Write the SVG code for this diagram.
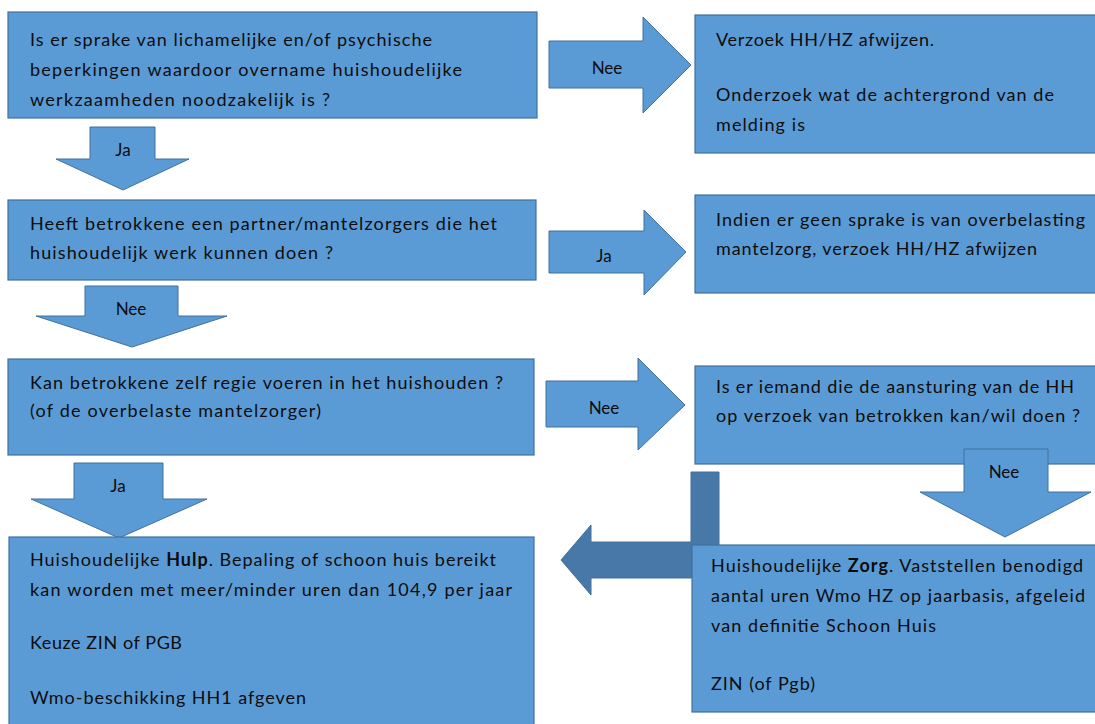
<svg xmlns="http://www.w3.org/2000/svg" width="1095" height="724" viewBox="0 0 1095 724">
<style>
.box{fill:#5B9BD5;stroke:#41719C;stroke-width:1.2}
.arr{fill:#5B9BD5;stroke:#41719C;stroke-width:1}
.bent{fill:#4878A8;stroke:#41719C;stroke-width:1}
text{font-family:Lato,"Liberation Sans",sans-serif;font-size:18px;fill:#0d0d0d}
.lbl{text-anchor:middle;font-size:17px}
</style>
<rect width="1095" height="724" fill="#fff"/>
<g id="connectors">
<g id="a1"><polygon class="arr" points="90,127 155,127 155,159 189,159 123,190 56,159 90,159"/><text class="lbl" x="123" y="156">Ja</text></g>
<g id="a2"><polygon class="arr" points="549,41 643,41 643,17 691,65 643,113 643,88 549,88"/><text class="lbl" x="607" y="74">Nee</text></g>
<g id="a3"><polygon class="arr" points="549,231 644,231 644,210 686,252 644,295 644,273 549,273"/><text class="lbl" x="604" y="262">Ja</text></g>
<g id="a4"><polygon class="arr" points="85,286 178,286 178,316 227,316 132,347 36,316 85,316"/><text class="lbl" x="131" y="315">Nee</text></g>
<g id="a5"><polygon class="arr" points="546,381 638,381 638,358 685,405 638,450 638,427 546,427"/><text class="lbl" x="604" y="414">Nee</text></g>
<g id="a7"><polygon class="arr" points="74,463 163,463 163,499 207,499 119,538 31,499 74,499"/><text class="lbl" x="118" y="492">Ja</text></g>
<g id="a8"><polygon class="bent" points="691,472 719,472 719,578 591,578 591,595 561,560 591,525 591,542 691,542"/></g>
</g>
<g id="n1"><rect class="box" x="8" y="12" width="529" height="106"/>
<text x="30" y="46" textLength="402">Is er sprake van lichamelijke en/of psychische</text>
<text x="30" y="76" textLength="432">beperkingen waardoor overname huishoudelijke</text>
<text x="30" y="106" textLength="300">werkzaamheden noodzakelijk is ?</text></g>
<g id="n2"><rect class="box" x="695" y="15" width="410" height="138"/>
<text x="716" y="46" textLength="218">Verzoek HH/HZ afwijzen.</text>
<text x="716" y="101" textLength="338">Onderzoek wat de achtergrond van de</text>
<text x="716" y="131" textLength="89">melding is</text></g>
<g id="n3"><rect class="box" x="8" y="200" width="528" height="80"/>
<text x="30" y="230" textLength="467">Heeft betrokkene een partner/mantelzorgers die het</text>
<text x="30" y="259" textLength="303">huishoudelijk werk kunnen doen ?</text></g>
<g id="n4"><rect class="box" x="695" y="195" width="410" height="98"/>
<text x="716" y="226" textLength="369">Indien er geen sprake is van overbelasting</text>
<text x="716" y="255" textLength="321">mantelzorg, verzoek HH/HZ afwijzen</text></g>
<g id="n5"><rect class="box" x="8" y="359" width="526" height="96"/>
<text x="30" y="389" textLength="473">Kan betrokkene zelf regie voeren in het huishouden ?</text>
<text x="30" y="417" textLength="291">(of de overbelaste mantelzorger)</text></g>
<g id="n6"><rect class="box" x="695" y="366" width="410" height="98"/>
<text x="716" y="393" textLength="358">Is er iemand die de aansturing van de HH</text>
<text x="716" y="422" textLength="364">op verzoek van betrokken kan/wil doen ?</text></g>
<g id="a6"><polygon class="arr" points="964,449 1048,449 1048,492 1091,492 1005,537 920,492 964,492"/><text class="lbl" x="1004" y="478">Nee</text></g>
<g id="n7"><rect class="box" x="9" y="537" width="525" height="200"/>
<text x="30" y="566" textLength="466">Huishoudelijke <tspan font-weight="bold">Hulp</tspan>. Bepaling of schoon huis bereikt</text>
<text x="30" y="596" textLength="482">kan worden met meer/minder uren dan 104,9 per jaar</text>
<text x="30" y="649" textLength="152">Keuze ZIN of PGB</text>
<text x="30" y="704" textLength="276">Wmo-beschikking HH1 afgeven</text></g>
<g id="n8"><rect class="box" x="692" y="545" width="413" height="167"/>
<text x="711" y="572" textLength="372">Huishoudelijke <tspan font-weight="bold">Zorg</tspan>. Vaststellen benodigd</text>
<text x="711" y="602" textLength="374">aantal uren Wmo HZ op jaarbasis, afgeleid</text>
<text x="711" y="632" textLength="225">van definitie Schoon Huis</text>
<text x="711" y="690" textLength="104">ZIN (of Pgb)</text></g>
</svg>
